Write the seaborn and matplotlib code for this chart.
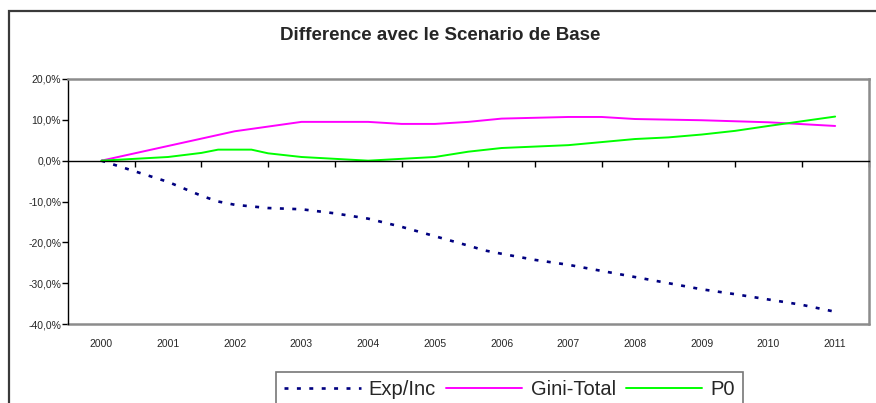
import numpy as np
import pandas as pd
import matplotlib
matplotlib.use("Agg")
import matplotlib.pyplot as plt
from matplotlib.patches import Rectangle
from matplotlib.ticker import FuncFormatter, FixedLocator
import seaborn as sns

# --- data (percent difference vs. base scenario) ---
years = list(range(2000, 2012))

exp_inc_x = [2000, 2000.5, 2001, 2001.5, 2001.75, 2002, 2002.5, 2003, 2003.5, 2004,
             2004.5, 2005, 2005.5, 2005.75, 2006, 2006.5, 2007, 2007.5, 2008,
             2008.5, 2009, 2009.5, 2010, 2010.5, 2011]
exp_inc_y = [0.0, -2.6, -5.2, -8.6, -10.0, -10.8, -11.6, -11.9, -12.9, -14.2,
             -16.2, -18.5, -20.8, -22.0, -22.8, -24.3, -25.5, -27.0, -28.5,
             -30.0, -31.5, -32.7, -34.0, -35.3, -37.0]

gini_x = [2000, 2001, 2002, 2003, 2004, 2004.5, 2005, 2005.5, 2006, 2007, 2007.5,
          2008, 2009, 2010, 2011]
gini_y = [0.0, 3.6, 7.2, 9.5, 9.5, 9.0, 9.0, 9.5, 10.3, 10.7, 10.7,
          10.2, 9.9, 9.4, 8.5]

p0_x = [2000, 2001, 2001.5, 2001.75, 2002.25, 2002.5, 2003, 2004, 2005, 2005.5,
        2006, 2007, 2008, 2008.5, 2009, 2009.5, 2010, 2011]
p0_y = [0.0, 0.9, 1.9, 2.7, 2.7, 1.8, 0.9, 0.0, 0.9, 2.2,
        3.1, 3.8, 5.3, 5.7, 6.4, 7.3, 8.5, 10.8]

series_names = ["Exp/Inc", "Gini-Total", "P0"]
y_ticks = [-40, -30, -20, -10, 0, 10, 20]

# --- style ---
sns.set_style("white")
plt.rcParams["font.family"] = ["Liberation Sans", "DejaVu Sans"]

W, H = 876, 403
fig = plt.figure(figsize=(W / 100, H / 100), dpi=100)

# outer chart frame (extends past the right/bottom edges)
fig.patches.append(Rectangle((9 / W, -0.2), 1.2, 1.2 - 11 / H,
                             transform=fig.transFigure, fill=False,
                             edgecolor="#3a3a3a", linewidth=1.6, zorder=0))

left, right, top, bottom = 68 / W, 868.5 / W, 1 - 79 / H, 1 - 324 / H
ax = fig.add_axes([left, bottom, right - left, top - bottom])

sns.lineplot(x=exp_inc_x, y=exp_inc_y, ax=ax, color="#000080", linewidth=1.9,
             label=series_names[0], estimator=None)
sns.lineplot(x=gini_x, y=gini_y, ax=ax, color="#FF00FF", linewidth=1.4,
             label=series_names[1], estimator=None)
sns.lineplot(x=p0_x, y=p0_y, ax=ax, color="#00FF00", linewidth=1.4,
             label=series_names[2], estimator=None)
ax.lines[0].set_dashes((1.5, 3.2))

ax.set_xlim(years[0] - 0.5, years[-1] + 0.5)
ax.set_ylim(y_ticks[0], y_ticks[-1])
ax.set_xlabel("")
ax.set_ylabel("")

# plot-area border
for side in ("top", "right"):
    ax.spines[side].set_visible(True)
    ax.spines[side].set_color("#8c8c8c")
    ax.spines[side].set_linewidth(1.8)
ax.spines["left"].set_color("black")
ax.spines["left"].set_linewidth(1.0)

# category axis crosses at zero, tick marks between categories
ax.spines["bottom"].set_position(("data", 0))
ax.spines["bottom"].set_color("black")
ax.spines["bottom"].set_linewidth(1.0)
ax.xaxis.set_major_locator(FixedLocator([y + 0.5 for y in years]))
ax.tick_params(axis="x", which="major", direction="out", length=4, width=1,
               color="black", labelbottom=False, bottom=True)

# gray bottom edge of the plot area
ax.axhline(y_ticks[0], color="#8c8c8c", linewidth=1.8, clip_on=False)

# year labels along the bottom of the plot area
sec = ax.secondary_xaxis(0)
sec.set_xticks(years)
sec.set_xticklabels([str(y) for y in years])
sec.tick_params(length=0, pad=11, labelsize=7.5)
sec.spines["bottom"].set_visible(False)

ax.set_yticks(y_ticks)
ax.yaxis.set_major_formatter(FuncFormatter(lambda v, p: f"{v:.1f}%".replace(".", ",")))
ax.tick_params(axis="y", direction="out", length=4, width=1, color="black",
               left=True, pad=1, labelsize=7.5)

ax.get_legend().remove()

fig.text(440 / W, 1 - 35 / H, "Difference avec le Scenario de Base",
         ha="center", va="center", fontsize=13.5, fontweight="bold")

handles, labels = ax.get_legend_handles_labels()
leg = fig.legend(handles, labels, loc="upper left",
                 bbox_to_anchor=(276 / W, 1 - 372 / H), ncol=3,
                 frameon=True, fancybox=False, fontsize=14.5,
                 handlelength=3.8, handletextpad=0.4, columnspacing=0.5,
                 borderpad=0.4, borderaxespad=0)
leg.get_frame().set_edgecolor("#555555")
leg.get_frame().set_linewidth(1.2)

fig.savefig("out.png", dpi=100)
